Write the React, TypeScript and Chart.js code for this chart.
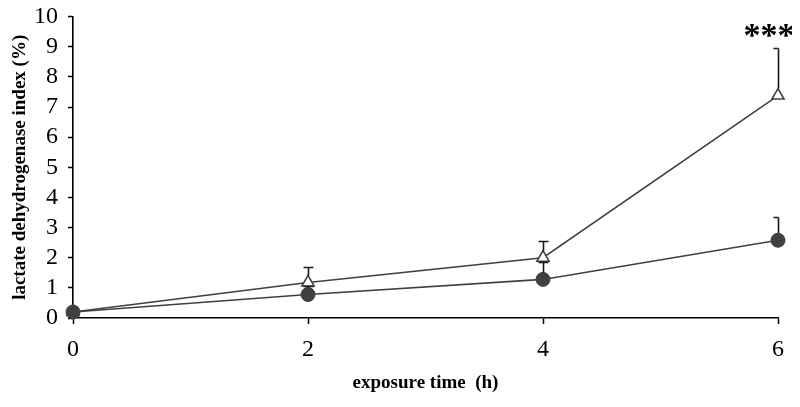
import React, { useEffect, useRef } from "react";
import { Chart, registerables } from "chart.js";

Chart.register(...registerables);

const hours = [0, 2, 4, 6];
const triangleValues = [0.2, 1.18, 2.0, 7.38];
const triangleErrorTops = [null, 1.68, 2.55, 8.95];
const circleValues = [0.2, 0.78, 1.28, 2.58];
const circleErrorTops = [null, 1.05, 1.85, 3.35];
const yTicks = [0, 1, 2, 3, 4, 5, 6, 7, 8, 9, 10];
const xTicks = [0, 2, 4, 6];
const significance = "***";

const LINE = "#404040";
const SERIF = "'Liberation Serif', 'Times New Roman', serif";

const errorBarPlugin = {
  id: "errorBars",
  afterDatasetsDraw(chart: any) {
    const { ctx, chartArea, scales } = chart;
    const x = scales.x;
    const y = scales.y;
    ctx.save();
    ctx.strokeStyle = "#1a1a1a";
    ctx.lineWidth = 1.6;
    const sets = [
      { vals: triangleValues, tops: triangleErrorTops, off: 7 },
      { vals: circleValues, tops: circleErrorTops, off: 7 },
    ];
    sets.forEach((s) => {
      hours.forEach((h, i) => {
        const t = s.tops[i];
        if (t == null) return;
        const px = Math.round(x.getPixelForValue(h)) + 0.5;
        const py0 = y.getPixelForValue(s.vals[i]) - s.off;
        const py1 = Math.round(y.getPixelForValue(t)) + 0.5;
        ctx.beginPath();
        ctx.moveTo(px, py0);
        ctx.lineTo(px, py1);
        ctx.moveTo(Math.min(px + 5, chartArea.right + 0.5), py1);
        ctx.lineTo(px - 5, py1);
        ctx.stroke();
      });
    });
    ctx.restore();
    // significance marker
    ctx.save();
    ctx.fillStyle = "#000";
    ctx.font = "bold 34px " + SERIF;
    ctx.textAlign = "center";
    ctx.textBaseline = "middle";
    const sx = x.getPixelForValue(6) - 9;
    const sy = y.getPixelForValue(9.3);
    ctx.fillText(significance, sx, sy);
    ctx.restore();
  },
};

export default function App() {
  const ref = useRef<HTMLCanvasElement>(null);
  useEffect(() => {
    if (!ref.current) return;
    const chart = new Chart(ref.current, {
      type: "line",
      data: {
        datasets: [
          {
            data: hours.map((h, i) => ({ x: h, y: circleValues[i] })),
            borderColor: LINE,
            borderWidth: 1.6,
            pointStyle: "circle",
            pointRadius: 7,
            pointBackgroundColor: LINE,
            pointBorderColor: LINE,
            pointBorderWidth: 1,
            tension: 0,
            clip: false,
          },
          {
            data: hours.map((h, i) => ({ x: h, y: triangleValues[i] })),
            borderColor: LINE,
            borderWidth: 1.6,
            pointStyle: "triangle",
            pointRadius: 7,
            pointBackgroundColor: "#ffffff",
            pointBorderColor: LINE,
            pointBorderWidth: 1.6,
            tension: 0,
            clip: false,
          },
        ],
      },
      options: {
        animation: false,
        responsive: false,
        layout: { padding: { top: 8, left: 0, right: 14, bottom: 0 } },
        plugins: { legend: { display: false }, tooltip: { enabled: false } },
        scales: {
          x: {
            type: "linear",
            min: 0,
            max: 6,
            afterBuildTicks: (s: any) => {
              s.ticks = xTicks.map((v) => ({ value: v }));
            },
            afterFit: (s: any) => {
              s.height = 80;
              s.paddingLeft = 0;
              s.paddingRight = 0;
            },
            grid: { drawOnChartArea: false, color: "#000", tickLength: 6, tickWidth: 1.5 },
            border: { color: "#000", width: 1.6 },
            ticks: {
              color: "#000",
              padding: 11,
              autoSkip: false,
              maxRotation: 0,
              font: { family: SERIF, size: 24 },
            },
            title: {
              display: true,
              text: "exposure time  (h)",
              color: "#000",
              font: { family: SERIF, size: 19, weight: "bold" },
              padding: { top: 0, bottom: 4 },
            },
          },
          y: {
            min: 0,
            max: 10,
            afterBuildTicks: (s: any) => {
              s.ticks = yTicks.map((v) => ({ value: v }));
            },
            afterFit: (s: any) => {
              s.width = 65;
              s.paddingTop = 0;
              s.paddingBottom = 0;
            },
            grid: { drawOnChartArea: false, color: "#000", tickLength: 5, tickWidth: 1.5 },
            border: { color: "#000", width: 1.6 },
            ticks: {
              color: "#000",
              padding: 10,
              autoSkip: false,
              font: { family: SERIF, size: 24, lineHeight: 1 },
            },
            title: {
              display: true,
              text: "lactate dehydrogenase index (%)",
              color: "#000",
              font: { family: SERIF, size: 19, weight: "bold" },
              padding: { top: 1, bottom: 0 },
            },
          },
        },
      },
      plugins: [errorBarPlugin],
    } as any);
    return () => chart.destroy();
  }, []);
  return <canvas ref={ref} width={784} height={390} />;
}
